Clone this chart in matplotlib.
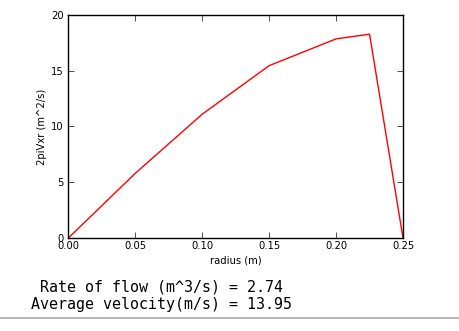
"""Flow profile across the pipe radius, with the integrated flow rate."""

import matplotlib

matplotlib.use("Agg")

import matplotlib.pyplot as plt
from matplotlib.lines import Line2D

radius = [0.0, 0.05, 0.10, 0.15, 0.20, 0.225, 0.25]
flux = [0.0, 5.8, 11.1, 15.45, 17.85, 18.27, 0.0]
flow_rate = 2.74
avg_velocity = 13.95

x_ticks = [0.0, 0.05, 0.10, 0.15, 0.20, 0.25]
y_ticks = [0, 5, 10, 15, 20]


def main() -> None:
    fig = plt.figure(figsize=(4.59, 3.31), dpi=100)
    ax = fig.add_axes([0.149, 0.281, 0.729, 0.674])
    ax.plot(radius, flux, color="#ff0000", linewidth=1.0)

    ax.set_xlim(0, 0.25)
    ax.set_ylim(0, 20)
    ax.set_xticks(x_ticks)
    ax.set_xticklabels([f"{t:.2f}" for t in x_ticks])
    ax.set_yticks(y_ticks)
    ax.tick_params(direction="in", length=4, width=0.6, labelsize=7.2,
                   top=True, right=True, color="#333333")
    ax.tick_params(axis="x", pad=2.5)
    ax.tick_params(axis="y", pad=3.5)
    for spine in ax.spines.values():
        spine.set_linewidth(1.0)

    ax.set_xlabel("radius (m)", fontsize=7.2, labelpad=3)
    ax.set_ylabel("2piVxr (m^2/s)", fontsize=7.2, labelpad=3)

    mono = dict(family="DejaVu Sans Mono", fontsize=10.8, color="black",
                ha="left", va="center")
    fig.text(40 / 459, 1 - 287 / 331, f"Rate of flow (m^3/s) = {flow_rate:.2f}", **mono)
    fig.text(31 / 459, 1 - 304 / 331, f"Average velocity(m/s) = {avg_velocity:.2f}", **mono)

    fig.add_artist(Line2D([0, 1], [1 - 318 / 331] * 2, color="#aaaaaa",
                          linewidth=1.2, transform=fig.transFigure))

    fig.savefig("out.png", dpi=100)
    plt.close(fig)


if __name__ == "__main__":
    main()
